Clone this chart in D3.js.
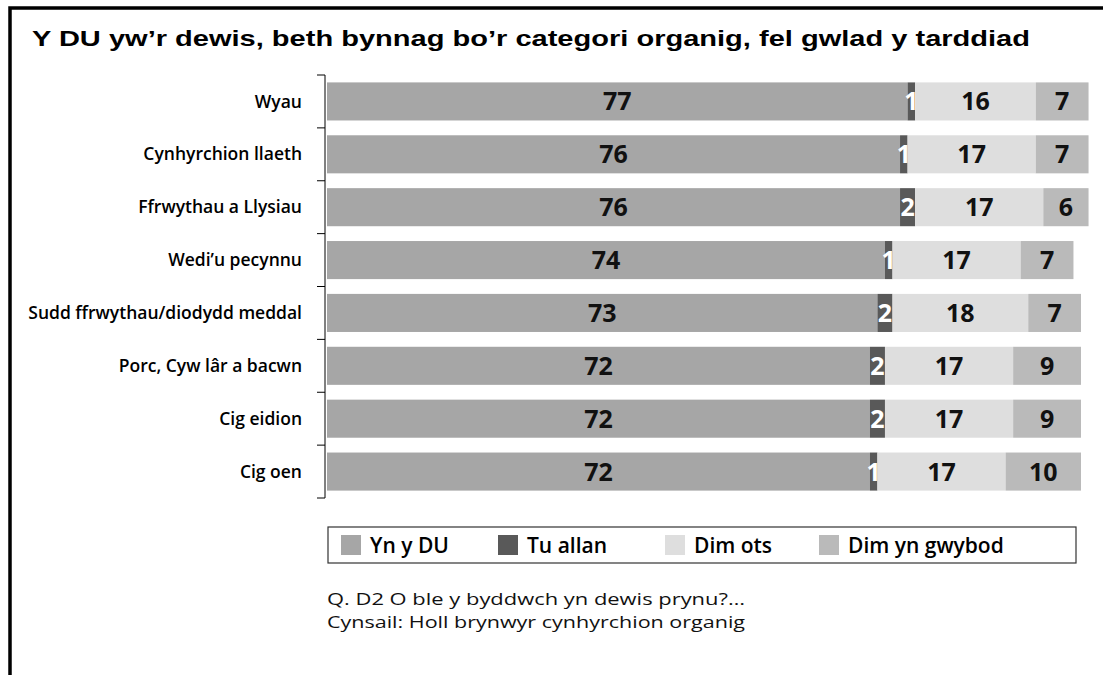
<!DOCTYPE html>
<html>
<head>
<meta charset="utf-8">
<script src="https://cdn.jsdelivr.net/npm/d3@7"></script>
<style>
  html, body { margin: 0; padding: 0; background: #fff; }
  svg { display: block; }
</style>
</head>
<body>
<svg id="chart" width="1103" height="675"></svg>
<script>
// Product categories, top to bottom
const categories = [
  "Wyau",
  "Cynhyrchion llaeth",
  "Ffrwythau a Llysiau",
  "Wedi\u2019u pecynnu",
  "Sudd ffrwythau/diodydd meddal",
  "Porc, Cyw lâr a bacwn",
  "Cig eidion",
  "Cig oen"
];

// Series names (legend order = stacking order)
const seriesNames = ["Yn y DU", "Tu allan", "Dim ots", "Dim yn gwybod"];

// Percentages per series, aligned with categories
const ynYDU       = [77, 76, 76, 74, 73, 72, 72, 72];
const tuAllan     = [1, 1, 2, 1, 2, 2, 2, 1];
const dimOts      = [16, 17, 17, 17, 18, 17, 17, 17];
const dimYnGwybod = [7, 7, 6, 7, 7, 9, 9, 10];

const seriesValues = [ynYDU, tuAllan, dimOts, dimYnGwybod];
const seriesColors = ["#a6a6a6", "#595959", "#dedede", "#bababa"];
const labelColors  = ["#111", "#fff", "#111", "#111"];

const titleText = "Y DU yw\u2019r dewis, beth bynnag bo\u2019r categori organig, fel gwlad y tarddiad";
const noteLines = [
  "Q. D2 O ble y byddwch yn dewis prynu?\u2026",
  "Cynsail: Holl brynwyr cynhyrchion organig"
];

const svg = d3.select("#chart");

// outer frame: top and left rules
svg.append("path")
  .attr("d", "M10,675 L10,8 L1103,8")
  .attr("fill", "none")
  .attr("stroke", "#000")
  .attr("stroke-width", 3.5);

svg.append("text")
  .attr("x", 32)
  .attr("y", 45.5)
  .attr("font-family", "Liberation Sans, Arial, sans-serif")
  .attr("font-weight", "bold")
  .attr("font-size", 22)
  .attr("textLength", 998)
  .attr("lengthAdjust", "spacingAndGlyphs")
  .attr("fill", "#000")
  .text(titleText);

// build stacked rows
const rows = categories.map((c, i) => {
  const r = { category: c };
  seriesNames.forEach((s, k) => { r[s] = seriesValues[k][i]; });
  return r;
});
const stacked = d3.stack().keys(seriesNames)(rows);

const axisX = 325;
const x = d3.scaleLinear().domain([0, 100]).range([327, 1081]);
const band = d3.scaleBand().domain(categories).range([75, 498]);
const y = d3.scaleBand().domain(categories).range([75, 498]).paddingInner(0.28).paddingOuter(0.14);

// category axis with boundary ticks between rows
const axisG = svg.append("g").attr("transform", `translate(${axisX},0)`);
axisG.append("path")
  .attr("d", `M0,75 V498`)
  .attr("stroke", "#000").attr("stroke-width", 1);
const boundaries = categories.map(c => band(c)).concat([band.range()[1]]);
axisG.selectAll("line.tick")
  .data(boundaries)
  .join("line")
  .attr("class", "tick")
  .attr("x1", -8).attr("x2", 0)
  .attr("y1", d => d).attr("y2", d => d)
  .attr("stroke", "#000").attr("stroke-width", 1);

svg.append("g")
  .selectAll("text")
  .data(categories)
  .join("text")
  .attr("x", 302)
  .attr("y", d => y(d) + y.bandwidth() / 2)
  .attr("dy", "0.35em")
  .attr("text-anchor", "end")
  .attr("font-family", "Open Sans, sans-serif")
  .attr("font-weight", 600)
  .attr("font-size", 17.5)
  .attr("fill", "#000")
  .text(d => d);

// bars
const layers = svg.append("g")
  .selectAll("g")
  .data(stacked)
  .join("g")
  .attr("fill", (d, i) => seriesColors[i]);

layers.selectAll("rect")
  .data(d => d)
  .join("rect")
  .attr("x", d => x(d[0]))
  .attr("y", d => y(d.data.category))
  .attr("width", d => x(d[1]) - x(d[0]))
  .attr("height", y.bandwidth());

// value labels
const labelLayers = svg.append("g")
  .selectAll("g")
  .data(stacked)
  .join("g")
  .attr("fill", (d, i) => labelColors[i]);

labelLayers.selectAll("text")
  .data(d => d.map(v => ({ v, key: d.key })))
  .join("text")
  .attr("x", d => (x(d.v[0]) + x(d.v[1])) / 2)
  .attr("y", d => y(d.v.data.category) + y.bandwidth() / 2)
  .attr("dy", "0.36em")
  .attr("text-anchor", "middle")
  .attr("font-family", "Open Sans, sans-serif")
  .attr("font-weight", "bold")
  .attr("font-size", 25)
  .text(d => d.v.data[d.key]);

// legend
const legend = svg.append("g");
legend.append("rect")
  .attr("x", 328).attr("y", 527)
  .attr("width", 748).attr("height", 36)
  .attr("fill", "#fff").attr("stroke", "#333").attr("stroke-width", 1.2);

const legendX = [341, 498, 665, 819];
const items = legend.selectAll("g.item")
  .data(seriesNames)
  .join("g")
  .attr("class", "item")
  .attr("transform", (d, i) => `translate(${legendX[i]},535)`);
items.append("rect")
  .attr("width", 20).attr("height", 20)
  .attr("fill", (d, i) => seriesColors[i]);
items.append("text")
  .attr("x", 29).attr("y", 10)
  .attr("dy", "0.36em")
  .attr("font-family", "Open Sans, sans-serif")
  .attr("font-weight", 600)
  .attr("font-size", 21)
  .attr("fill", "#000")
  .text(d => d);

// question / base note
const noteWidths = [418, 418];
svg.append("g")
  .selectAll("text")
  .data(noteLines)
  .join("text")
  .attr("x", 327)
  .attr("y", (d, i) => 605 + i * 23)
  .attr("font-family", "Open Sans, sans-serif")
  .attr("font-size", 17)
  .attr("textLength", (d, i) => noteWidths[i])
  .attr("lengthAdjust", "spacingAndGlyphs")
  .attr("fill", "#111")
  .text(d => d);
</script>
</body>
</html>
